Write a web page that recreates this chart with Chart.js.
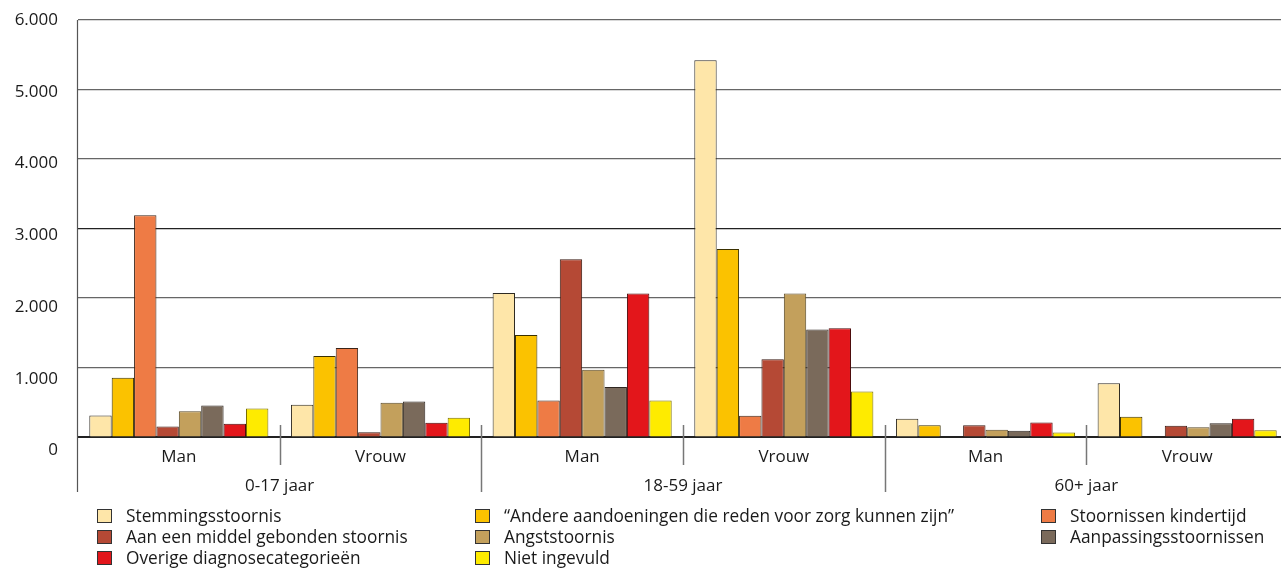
<!DOCTYPE html>
<html lang="nl">
<head>
<meta charset="utf-8">
<title>Diagnosecategorieën naar leeftijd en geslacht</title>
<script src="https://cdn.jsdelivr.net/npm/chart.js@4/dist/chart.umd.min.js"></script>
<style>
  body { margin: 0; background: #fff; overflow: hidden; }
  #wrap { position: relative; width: 1281px; height: 568px; overflow: hidden; font-family: "Open Sans", sans-serif; color: #1a1a1a; }
  #chart { position: absolute; left: 0; top: 0; }
  #legend { position: absolute; left: 0; top: 0; width: 1281px; height: 568px; pointer-events: none; }
  .item { position: absolute; font-size: 17.3px; line-height: 20px; white-space: nowrap; }
  .item span.box { position: absolute; left: -29px; top: 3px; width: 15px; height: 14px; border: 1px solid #333; box-sizing: border-box; }
</style>
</head>
<body>
<div id="wrap">
  <canvas id="chart" width="1288" height="568"></canvas>
  <div id="legend"></div>
</div>
<script>
const subLabels = ["Man", "Vrouw", "Man", "Vrouw", "Man", "Vrouw"];
const groupLabels = ["0-17 jaar", "18-59 jaar", "60+ jaar"];
const yTicks = [0, 1000, 2000, 3000, 4000, 5000, 6000];

const seriesNames = [
  "Stemmingsstoornis",
  "\u201CAndere aandoeningen die reden voor zorg kunnen zijn\u201D",
  "Stoornissen kindertijd",
  "Aan een middel gebonden stoornis",
  "Angststoornis",
  "Aanpassingsstoornissen",
  "Overige diagnosecategorieën",
  "Niet ingevuld",
];
const seriesColors = ["#fee6a9", "#fbc200", "#ee7b45", "#b54935", "#c3a05c", "#7a6a5b", "#e3161b", "#feeb00"];
const seriesBorders = ["#2e2a22", "#3a3000", "#3a2418", "#3a1a12", "#5a4a28", "#2e2620", "#4a0a0a", "#7a6e00"];

// one array per diagnosis, values per category (0-17 M/V, 18-59 M/V, 60+ M/V)
const stemming    = [310, 464, 2072, 5421, 262, 775];
const andere      = [853, 1164, 1467, 2706, 170, 291];
const kindertijd  = [3190, 1280, 526, 305, null, null];
const middel      = [151, 70, 2558, 1117, 170, 161];
const angst       = [372, 493, 968, 2063, 104, 141];
const aanpassing  = [454, 512, 718, 1545, 89, 199];
const overige     = [190, 205, 2063, 1563, 209, 262];
const nietIngevuld = [411, 277, 526, 656, 65, 98];

const seriesData = [stemming, andere, kindertijd, middel, angst, aanpassing, overige, nietIngevuld];

function formatNl(v) {
  return String(v).replace(/\B(?=(\d{3})+(?!\d))/g, ".");
}

const FONT = '17px "Open Sans", sans-serif';

// axis labels, separators and the long left axis line
const axisPlugin = {
  id: "axisDecor",
  afterDraw(chart) {
    const { ctx, chartArea, scales } = chart;
    const x = scales.x;
    const y = scales.y;
    ctx.save();

    ctx.strokeStyle = "#555";
    ctx.lineWidth = 1.2;
    ctx.beginPath();
    ctx.moveTo(chartArea.left - 0.5, chartArea.top);
    ctx.lineTo(chartArea.left - 0.5, chartArea.bottom + 55);
    ctx.stroke();

    ctx.fillStyle = "#1a1a1a";
    ctx.font = FONT;
    ctx.textAlign = "right";
    ctx.textBaseline = "middle";
    yTicks.forEach((v) => {
      const py = y.getPixelForValue(v) + 13.5 * (1 - v / 6000);
      ctx.fillText(formatNl(v), 58, py);
    });

    ctx.textAlign = "center";
    subLabels.forEach((lab, i) => {
      ctx.fillText(lab, x.getPixelForValue(i), chartArea.bottom + 20);
    });

    ctx.strokeStyle = "#777";
    ctx.lineWidth = 1.5;
    for (let i = 0; i < subLabels.length - 1; i++) {
      const bx = Math.round((x.getPixelForValue(i) + x.getPixelForValue(i + 1)) / 2) + 0.5;
      const bottom = i % 2 === 1 ? chartArea.bottom + 55 : chartArea.bottom + 28;
      ctx.beginPath();
      ctx.moveTo(bx, chartArea.bottom - 12);
      ctx.lineTo(bx, bottom);
      ctx.stroke();
    }

    groupLabels.forEach((lab, g) => {
      const gx = (x.getPixelForValue(2 * g) + x.getPixelForValue(2 * g + 1)) / 2;
      ctx.fillText(lab, gx, chartArea.bottom + 49);
    });
    ctx.restore();
  },
};

new Chart(document.getElementById("chart"), {
  type: "bar",
  data: {
    labels: subLabels,
    datasets: seriesNames.map((name, i) => ({
      label: name,
      data: seriesData[i],
      backgroundColor: seriesColors[i],
      borderColor: seriesBorders[i],
      borderWidth: 1,
      categoryPercentage: 0.888,
      barPercentage: 1.0,
    })),
  },
  options: {
    responsive: false,
    animation: false,
    devicePixelRatio: 1,
    layout: { padding: { top: 20, right: 0, left: 0, bottom: 0 } },
    plugins: { legend: { display: false }, tooltip: { enabled: false } },
    scales: {
      x: {
        grid: { display: false },
        border: { display: true, color: "#222", width: 1 },
        ticks: { display: false },
        afterFit: (s) => { s.height = 131; },
      },
      y: {
        min: 0,
        max: 6000,
        ticks: { display: false, stepSize: 1000 },
        grid: {
          drawTicks: false,
          color: (c) => (c.tick.value === 0 || c.tick.value === 3000 ? "#222" : "#666"),
          lineWidth: 1.2,
        },
        border: { display: false },
        afterFit: (s) => { s.width = 78; },
      },
    },
  },
  plugins: [axisPlugin],
});

// legend in three columns, filled row by row
const legendEl = document.getElementById("legend");
const colX = [126, 504, 1070];
const rowY = [506, 527, 548];
seriesNames.forEach((name, i) => {
  const div = document.createElement("div");
  div.className = "item";
  div.style.left = colX[i % 3] + "px";
  div.style.top = rowY[Math.floor(i / 3)] + "px";
  const box = document.createElement("span");
  box.className = "box";
  box.style.background = seriesColors[i];
  div.appendChild(box);
  div.appendChild(document.createTextNode(name));
  legendEl.appendChild(div);
});
</script>
</body>
</html>
